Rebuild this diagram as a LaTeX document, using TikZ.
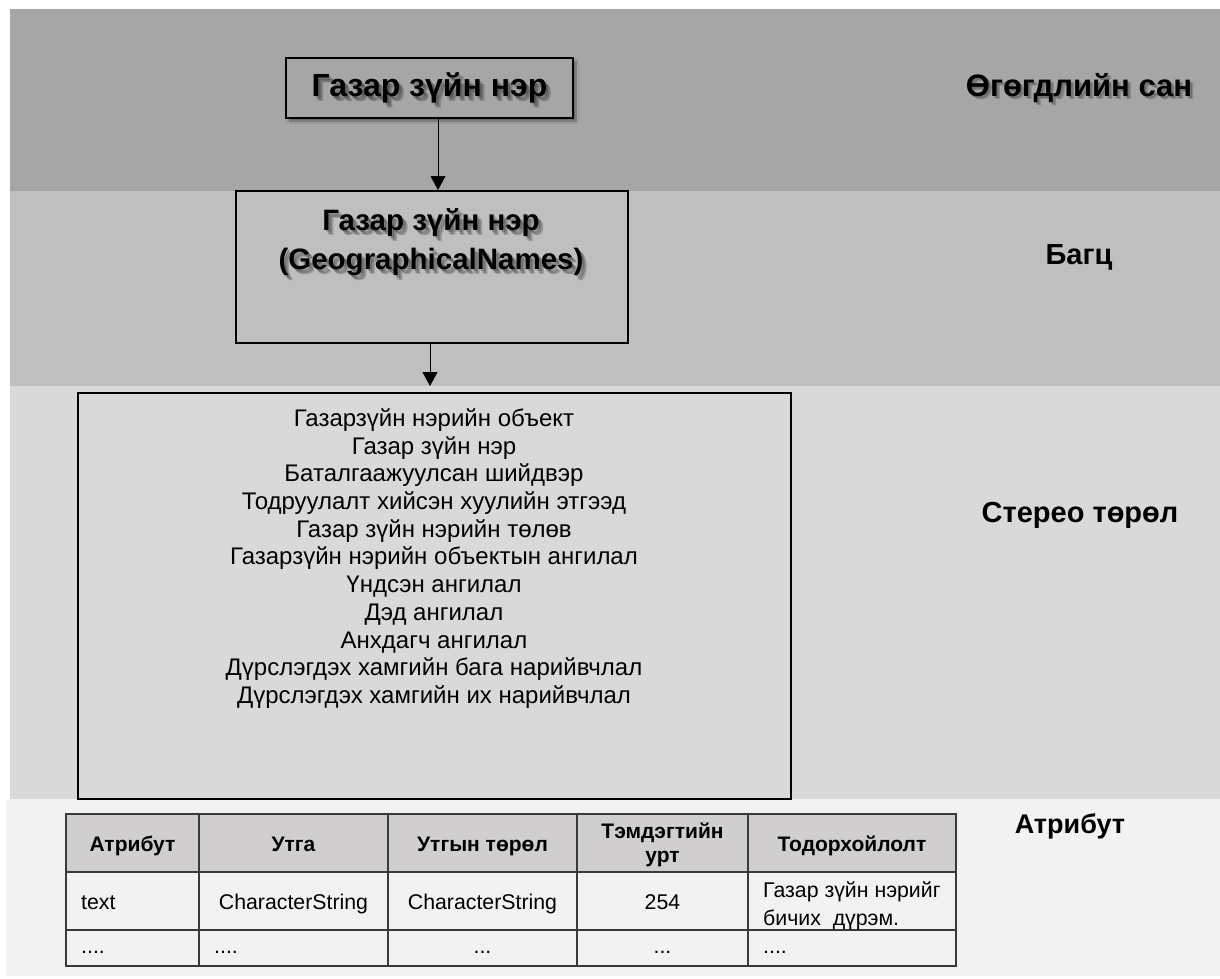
\documentclass[tikz,border=0pt]{standalone}
\usepackage{fontspec}
\setmainfont{Liberation Sans}
\usetikzlibrary{arrows.meta,shadows.blur}
\definecolor{bandA}{HTML}{A6A6A6}
\definecolor{bandB}{HTML}{BFBFBF}
\definecolor{bandC}{HTML}{D9D9D9}
\definecolor{bandD}{HTML}{F2F2F2}
\definecolor{headfill}{HTML}{D0CECE}
\definecolor{gridcol}{HTML}{3A3A3A}
\begin{document}
\begin{tikzpicture}[x=1pt,y=-1pt,
  box/.style={draw=black,line width=2pt,inner sep=0pt},
  arr/.style={-{Triangle[length=14pt,width=15pt]},line width=1pt},
  sha/.style={text=black,opacity=0.18},
  bigbold/.style={font=\fontsize{32}{38}\selectfont\bfseries},
  midbold/.style={font=\fontsize{29.5}{39}\selectfont\bfseries,align=center},
  lbl/.style={font=\fontsize{29}{34}\selectfont\bfseries},
  listtext/.style={font=\fontsize{24}{27.7}\selectfont,align=center},
  cellb/.style={font=\fontsize{21}{26}\selectfont\bfseries,inner sep=0pt,anchor=base},
  cell/.style={font=\fontsize{21.3}{30}\selectfont,inner sep=0pt,anchor=base},
  grid/.style={draw=gridcol,line width=1.5pt}]
\useasboundingbox (0,0) rectangle (1220,978);
\fill[white] (0,0) rectangle (1220,978);
% bands
\fill[bandA] (10,9) rectangle (1220,191);
\fill[bandB] (10,191) rectangle (1220,386);
\fill[bandC] (10,386) rectangle (1220,799);
\fill[bandD] (6,799) rectangle (1220,976);
% box 1
\node[box,fill=bandA,minimum width=287pt,minimum height=60pt,
  blur shadow={shadow xshift=3pt,shadow yshift=-3pt,shadow blur steps=6,shadow opacity=40}] (b1) at (429.5,88) {};
\node[bigbold,sha] (b1sa) at (431.5,90) {Газар зүйн нэр};
\node[bigbold,sha] (b1sb) at (433,91.5) {Газар зүйн нэр};
\node[bigbold,sha] (b1sc) at (434.5,93) {Газар зүйн нэр};
\node[bigbold] (b1t) at (429.5,88) {Газар зүйн нэр};
% box 2
\node[box,minimum width=392pt,minimum height=152pt] (b2) at (432,267) {};
\node[midbold,sha] (b2sa) at (433,244.5) {Газар зүйн нэр\\(GeographicalNames)};
\node[midbold,sha] (b2sb) at (434.5,246) {Газар зүйн нэр\\(GeographicalNames)};
\node[midbold,sha] (b2sc) at (436,247.5) {Газар зүйн нэр\\(GeographicalNames)};
\node[midbold] (b2t) at (431,242.5) {Газар зүйн нэр\\(GeographicalNames)};
% box 3
\node[box,minimum width=713pt,minimum height=406pt] (b3) at (434.5,596) {};
\node[listtext] (b3t) at (434,558.5) {Газарзүйн нэрийн объект\\Газар зүйн нэр\\Баталгаажуулсан шийдвэр\\Тодруулалт хийсэн хуулийн этгээд\\Газар зүйн нэрийн төлөв\\Газарзүйн нэрийн объектын ангилал\\Үндсэн ангилал\\Дэд ангилал\\Анхдагч ангилал\\Дүрслэгдэх хамгийн бага нарийвчлал\\Дүрслэгдэх хамгийн их нарийвчлал};
% arrows
\draw[arr] ([xshift=8.5pt]b1.south) -- ([xshift=6pt]b2.north);
\draw[arr] ([xshift=-2pt]b2.south) -- ([xshift=-4.5pt,yshift=6pt]b3.north);
% right labels
\node[lbl,sha,font=\fontsize{31}{36}\selectfont\bfseries] (l1sa) at (1081,90) {Өгөгдлийн сан};
\node[lbl,sha,font=\fontsize{31}{36}\selectfont\bfseries] (l1sb) at (1082.5,91.5) {Өгөгдлийн сан};
\node[lbl,font=\fontsize{31}{36}\selectfont\bfseries] (l1) at (1079,88) {Өгөгдлийн сан};
\node[lbl] (l2) at (1079,257) {Багц};
\node[lbl] (l3) at (1080,515) {Стерео төрөл};
\node[lbl,font=\fontsize{27}{32}\selectfont\bfseries] (l4) at (1070,826) {Атрибут};
% table
\fill[headfill] (66,814) rectangle (956,872);
\draw[grid] (66,814) rectangle (956,966);
\draw[grid] (66,872) -- (956,872);
\draw[grid] (66,930) -- (956,930);
\foreach \cx in {199,388,577,748} \draw[grid] (\cx,814) -- (\cx,966);
\node[cellb] (h1) at (132.5,851) {Атрибут};
\node[cellb] (h2) at (293.5,851) {Утга};
\node[cellb] (h3) at (482.5,851) {Утгын төрөл};
\node[cellb] (h4a) at (662.5,838) {Тэмдэгтийн};
\node[cellb] (h4b) at (662.5,862) {урт};
\node[cellb] (h5) at (852,851) {Тодорхойлолт};
\node[cell,anchor=base west] (c11) at (81,909.5) {text};
\node[cell] (c12) at (293.5,909.5) {CharacterString};
\node[cell] (c13) at (482.5,909.5) {CharacterString};
\node[cell] (c14) at (662.5,909.5) {254};
\node[cell,anchor=base west] (c15a) at (763,897) {Газар зүйн нэрийг};
\node[cell,anchor=base west] (c15b) at (763,925) {бичих\ \ дүрэм.};
\node[cell,anchor=base west] (c21) at (81,953) {....};
\node[cell,anchor=base west] (c22) at (214,953) {....};
\node[cell] (c23) at (482.5,953) {...};
\node[cell] (c24) at (662.5,953) {...};
\node[cell,anchor=base west] (c25) at (763,953) {....};
\end{tikzpicture}
\end{document}
